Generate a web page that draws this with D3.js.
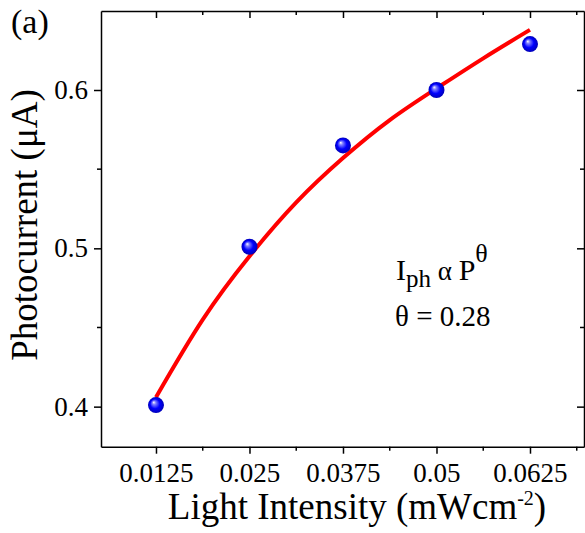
<!DOCTYPE html>
<html>
<head>
<meta charset="utf-8">
<script src="https://cdn.jsdelivr.net/npm/d3@7"></script>
<style>
  body { margin: 0; background: #fff; }
  svg { display: block; font-family: "Liberation Serif", "Times New Roman", serif; }
  .axis path, .axis line { stroke: #000; stroke-width: 1.5; }
  .axis text { font-size: 27px; fill: #000; font-family: "Liberation Serif", "Times New Roman", serif; }
</style>
</head>
<body>
<svg id="canvas" width="585" height="533"></svg>
<script>
// measured points
let intensity = [0.0125, 0.025, 0.0375, 0.05, 0.0625]
let photocurrent = [0.401, 0.501, 0.565, 0.600, 0.629]

// red fit line
let fitIntensity = [0.0125, 0.01875, 0.025, 0.03125, 0.0375, 0.04375, 0.05, 0.05625, 0.0625]
let fitCurrent = [0.406, 0.455, 0.495, 0.529, 0.557, 0.581, 0.601, 0.620, 0.638]

let xTicks = [0.0125, 0.025, 0.0375, 0.05, 0.0625]
let xTickLabels = ['0.0125', '0.025', '0.0375', '0.05', '0.0625']
let xMinorTicks = [0.01875, 0.03125, 0.04375, 0.05625, 0.06875]
let yTicks = [0.4, 0.5, 0.6]
let yTickLabels = ['0.4', '0.5', '0.6']
let yMinorTicks = [0.45, 0.55]

let canvas = d3.select('#canvas')

let plotLeft = 101, plotRight = 584, plotTop = 11, plotBottom = 446.7

let xScale = d3.scaleLinear().domain([0.00515, 0.06972]).range([plotLeft, plotRight])
let yScale = d3.scaleLinear().domain([0.3747, 0.6499]).range([plotBottom, plotTop])

// sphere marker gradient
let defs = canvas.append('defs')
let grad = defs.append('radialGradient')
    .attr('id', 'ball')
    .attr('cx', '50%').attr('cy', '50%').attr('r', '50%')
    .attr('fx', '35%').attr('fy', '32%')
grad.append('stop').attr('offset', '0%').attr('stop-color', '#ffffff')
grad.append('stop').attr('offset', '22%').attr('stop-color', '#7f7fff')
grad.append('stop').attr('offset', '60%').attr('stop-color', '#0000ff')
grad.append('stop').attr('offset', '100%').attr('stop-color', '#0000b8')

// axes: bottom & left with labels, top & right mirrored with inward ticks
let fmtX = (d) => xTickLabels[xTicks.indexOf(d)]
let fmtY = (d) => yTickLabels[yTicks.indexOf(d)]

let bottomAxis = canvas.append('g').attr('class', 'axis')
    .attr('transform', 'translate(0,' + plotBottom + ')')
    .call(d3.axisBottom(xScale).tickValues(xTicks).tickFormat(fmtX).tickSize(7).tickPadding(9).tickSizeOuter(0))
bottomAxis.selectAll('.minor').data(xMinorTicks).enter().append('line')
    .attr('class', 'minor')
    .attr('x1', (d) => xScale(d)).attr('x2', (d) => xScale(d))
    .attr('y1', 0).attr('y2', 4)

let leftAxis = canvas.append('g').attr('class', 'axis')
    .attr('transform', 'translate(' + plotLeft + ',0)')
    .call(d3.axisLeft(yScale).tickValues(yTicks).tickFormat(fmtY).tickSize(7).tickPadding(6).tickSizeOuter(0))
leftAxis.selectAll('.minor').data(yMinorTicks).enter().append('line')
    .attr('class', 'minor')
    .attr('y1', (d) => yScale(d)).attr('y2', (d) => yScale(d))
    .attr('x1', 0).attr('x2', -4)

let topAxis = canvas.append('g').attr('class', 'axis')
    .attr('transform', 'translate(0,' + plotTop + ')')
    .call(d3.axisBottom(xScale).tickValues(xTicks).tickFormat('').tickSize(7).tickSizeOuter(0))
topAxis.selectAll('.minor').data(xMinorTicks).enter().append('line')
    .attr('class', 'minor')
    .attr('x1', (d) => xScale(d)).attr('x2', (d) => xScale(d))
    .attr('y1', 0).attr('y2', 4)

let rightAxis = canvas.append('g').attr('class', 'axis')
    .attr('transform', 'translate(' + plotRight + ',0)')
    .call(d3.axisLeft(yScale).tickValues(yTicks).tickFormat('').tickSize(7).tickSizeOuter(0))
rightAxis.selectAll('.minor').data(yMinorTicks).enter().append('line')
    .attr('class', 'minor')
    .attr('y1', (d) => yScale(d)).attr('y2', (d) => yScale(d))
    .attr('x1', 0).attr('x2', -4)

// fit line
let fitData = fitIntensity.map((x, i) => [x, fitCurrent[i]])
canvas.append('path')
    .datum(fitData)
    .attr('fill', 'none')
    .attr('stroke', '#ff0000')
    .attr('stroke-width', 4)
    .attr('d', d3.line()
        .x((d) => xScale(d[0]))
        .y((d) => yScale(d[1]))
        .curve(d3.curveNatural))

// data points
canvas.selectAll('.dot')
    .data(intensity.map((x, i) => [x, photocurrent[i]]))
    .enter()
    .append('circle')
    .attr('class', 'dot')
    .attr('cx', (d) => xScale(d[0]))
    .attr('cy', (d) => yScale(d[1]))
    .attr('r', 8)
    .attr('fill', 'url(#ball)')

// axis titles
let xTitle = canvas.append('text')
    .attr('x', 357).attr('y', 519)
    .attr('text-anchor', 'middle')
    .attr('font-size', 37)
xTitle.append('tspan').text('Light Intensity (mWcm')
xTitle.append('tspan').attr('font-size', 20).attr('dy', -14).text('-2')
xTitle.append('tspan').attr('dy', 14).text(')')

canvas.append('text')
    .attr('transform', 'translate(37,225) rotate(-90)')
    .attr('text-anchor', 'middle')
    .attr('font-size', 37)
    .text('Photocurrent (\u03BCA)')

// panel label
canvas.append('text')
    .attr('x', 11).attr('y', 33)
    .attr('font-size', 34)
    .text('(a)')

// annotation
let note = canvas.append('text')
    .attr('x', 396).attr('y', 280)
    .attr('font-size', 30)
note.append('tspan').text('I')
note.append('tspan').attr('font-size', 25).attr('dy', 7).text('ph')
note.append('tspan').attr('font-size', 27).attr('dy', -7).text(' \u03B1 ')
note.append('tspan').text('P')
note.append('tspan').attr('font-size', 26).attr('dy', -18).text('\u03B8')

canvas.append('text')
    .attr('x', 395).attr('y', 326)
    .attr('font-size', 29)
    .text('\u03B8 = 0.28')
</script>
</body>
</html>
